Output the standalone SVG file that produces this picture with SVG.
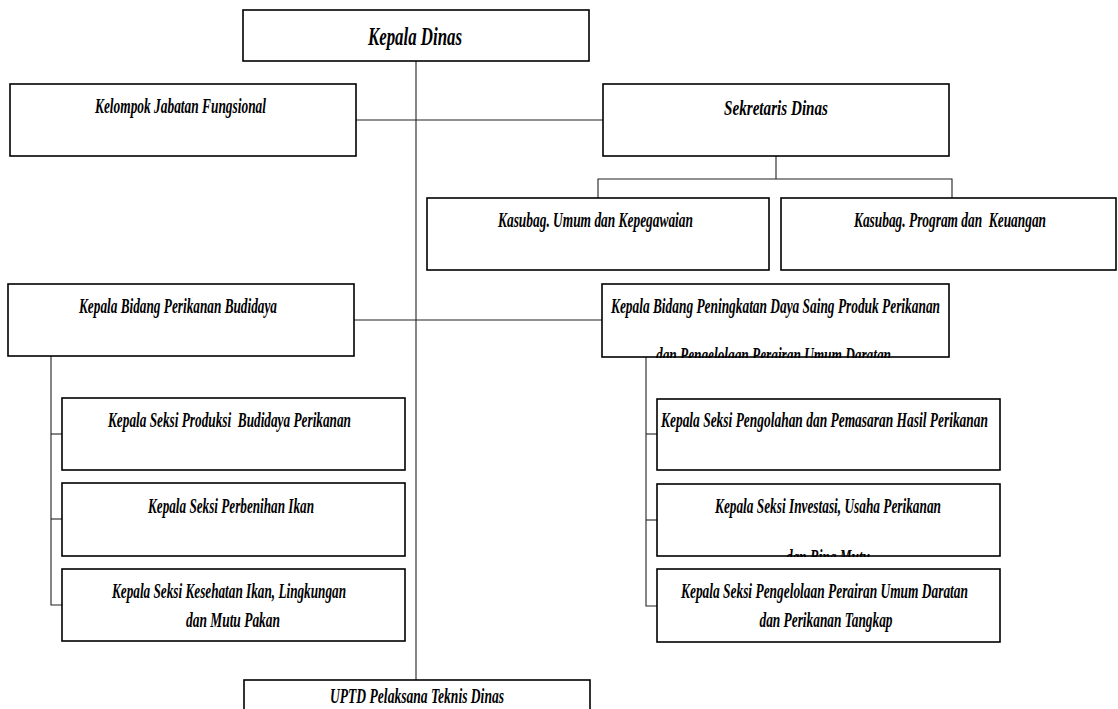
<svg xmlns="http://www.w3.org/2000/svg" width="1118" height="709" viewBox="0 0 1118 709">
<style>
.box{fill:#fff;stroke:#000;stroke-width:1.6}
.ln{fill:none;stroke:#222;stroke-width:1.1}
text{font-family:"Liberation Serif","Times New Roman",serif;font-weight:bold;font-style:italic;font-size:21px;fill:#000;text-anchor:middle}
</style>
<defs>
<clipPath id="clipA"><rect x="602" y="284" width="347" height="74"/></clipPath>
<clipPath id="clipB"><rect x="657" y="484" width="343" height="73"/></clipPath>
</defs>
<rect width="1118" height="709" fill="#fff"/>
<g id="connectors">
<line class="ln" x1="416" y1="61" x2="416" y2="680"/>
<line class="ln" x1="356" y1="120" x2="603" y2="120"/>
<polyline class="ln" points="776,156 776,179"/>
<polyline class="ln" points="598,198 598,179 952,179 952,198"/>
<line class="ln" x1="354" y1="320" x2="602" y2="320"/>
<polyline class="ln" points="51,356 51,605 62,605"/>
<line class="ln" x1="51" y1="434" x2="62" y2="434"/>
<line class="ln" x1="51" y1="519" x2="62" y2="519"/>
<polyline class="ln" points="646,357 646,606 657,606"/>
<line class="ln" x1="646" y1="434" x2="657" y2="434"/>
<line class="ln" x1="646" y1="520" x2="657" y2="520"/>
</g>
<g id="kepala-dinas">
<rect class="box" x="243" y="10" width="346" height="51"/>
<text x="415" y="45" style="font-size:26px" textLength="94" lengthAdjust="spacingAndGlyphs">Kepala Dinas</text>
</g>
<g id="kelompok">
<rect class="box" x="10" y="84" width="346" height="72"/>
<text x="180.5" y="113" textLength="171" lengthAdjust="spacingAndGlyphs">Kelompok Jabatan Fungsional</text>
</g>
<g id="sekretaris">
<rect class="box" x="603" y="84" width="346" height="72"/>
<text x="776" y="115" style="font-size:22px" textLength="104" lengthAdjust="spacingAndGlyphs">Sekretaris Dinas</text>
</g>
<g id="kasubag-umum">
<rect class="box" x="427" y="198" width="342" height="72"/>
<text x="595.5" y="227" textLength="195" lengthAdjust="spacingAndGlyphs">Kasubag. Umum dan Kepegawaian</text>
</g>
<g id="kasubag-program">
<rect class="box" x="781" y="198" width="335" height="72"/>
<text x="950" y="227" textLength="192" lengthAdjust="spacingAndGlyphs" xml:space="preserve">Kasubag. Program dan  Keuangan</text>
</g>
<g id="bidang-budidaya">
<rect class="box" x="8" y="284" width="346" height="72"/>
<text x="178" y="313" textLength="198" lengthAdjust="spacingAndGlyphs">Kepala Bidang Perikanan Budidaya</text>
</g>
<g id="bidang-daya-saing">
<rect class="box" x="602" y="284" width="347" height="73"/>
<text x="775.5" y="313" textLength="329" lengthAdjust="spacingAndGlyphs">Kepala Bidang Peningkatan Daya Saing Produk Perikanan</text>
<text x="773.5" y="362" textLength="235" lengthAdjust="spacingAndGlyphs" clip-path="url(#clipA)">dan Pengelolaan Perairan Umum Daratan</text>
</g>
<g id="seksi-produksi">
<rect class="box" x="62" y="398" width="343" height="72"/>
<text x="229.5" y="427" textLength="243" lengthAdjust="spacingAndGlyphs" xml:space="preserve">Kepala Seksi Produksi  Budidaya Perikanan</text>
</g>
<g id="seksi-perbenihan">
<rect class="box" x="62" y="483" width="343" height="73"/>
<text x="231" y="513" textLength="166" lengthAdjust="spacingAndGlyphs">Kepala Seksi Perbenihan Ikan</text>
</g>
<g id="seksi-kesehatan">
<rect class="box" x="62" y="569" width="343" height="72"/>
<text x="229" y="598" textLength="234" lengthAdjust="spacingAndGlyphs">Kepala Seksi Kesehatan Ikan, Lingkungan</text>
<text x="233" y="627" textLength="94" lengthAdjust="spacingAndGlyphs">dan Mutu Pakan</text>
</g>
<g id="seksi-pengolahan">
<rect class="box" x="657" y="399" width="343" height="71"/>
<text x="824.5" y="427" textLength="327" lengthAdjust="spacingAndGlyphs">Kepala Seksi Pengolahan dan Pemasaran Hasil Perikanan</text>
</g>
<g id="seksi-investasi">
<rect class="box" x="657" y="484" width="343" height="72"/>
<text x="828" y="513" textLength="226" lengthAdjust="spacingAndGlyphs">Kepala Seksi Investasi, Usaha Perikanan</text>
<text x="828" y="564" textLength="84" lengthAdjust="spacingAndGlyphs" clip-path="url(#clipB)">dan Bina Mutu</text>
</g>
<g id="seksi-pengelolaan">
<rect class="box" x="657" y="569" width="343" height="73"/>
<text x="824.5" y="598" textLength="287" lengthAdjust="spacingAndGlyphs">Kepala Seksi Pengelolaan Perairan Umum Daratan</text>
<text x="826" y="627" textLength="133" lengthAdjust="spacingAndGlyphs">dan Perikanan Tangkap</text>
</g>
<g id="uptd">
<rect class="box" x="244" y="680" width="346" height="60"/>
<text x="417" y="703" textLength="174" lengthAdjust="spacingAndGlyphs">UPTD Pelaksana Teknis Dinas</text>
</g>
</svg>
